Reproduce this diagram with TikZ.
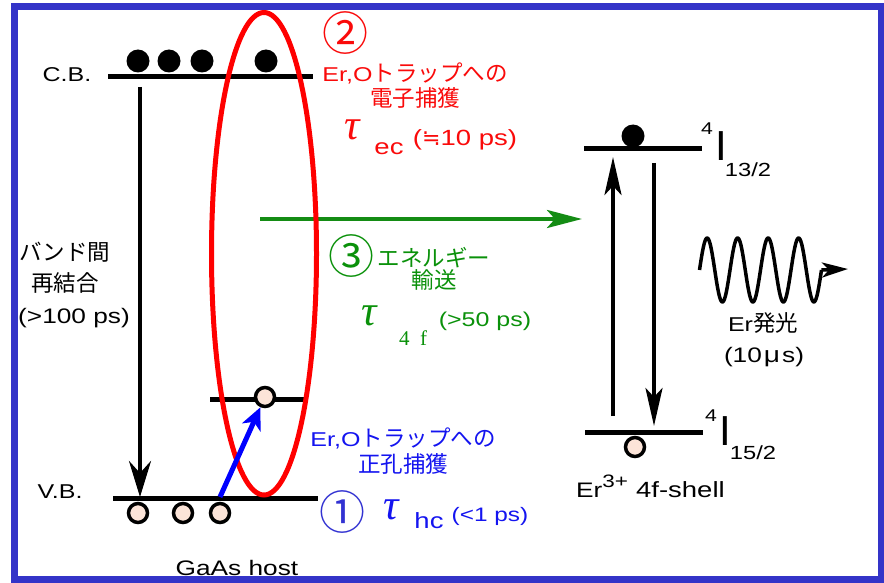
\documentclass[tikz,border=0pt]{standalone}
\usepackage{fontspec}
\setmainfont{Noto Sans CJK JP}
\newfontfamily\lat{Liberation Sans}[FakeStretch=1.25]
\newfontfamily\latplain{Liberation Sans}
\newfontfamily\djv{DejaVu Sans}
\newfontfamily\serifface{Liberation Serif}
\usetikzlibrary{arrows.meta}
\definecolor{frameblue}{RGB}{52,52,200}
\definecolor{myred}{RGB}{250,10,10}
\definecolor{mygreen}{RGB}{10,145,10}
\definecolor{arrowgreen}{RGB}{20,140,20}
\definecolor{myblue}{RGB}{20,20,240}
\definecolor{circblue}{RGB}{50,50,210}
\definecolor{holefill}{RGB}{252,228,216}
\newcommand{\fsz}[1]{\fontsize{#1pt}{#1pt}\selectfont}
\tikzset{
  lvl/.style={line width=5pt},
  elec/.style={circle, fill=black, minimum size=23pt, inner sep=0pt},
  hole/.style={circle, fill=holefill, draw=black, line width=3.5pt, minimum size=19pt, inner sep=0pt},
  lbl/.style={font=\fsz{22.5}, inner sep=0pt},
  latlbl/.style={font=\fsz{20}\lat, inner sep=0pt},
  circnum/.style={font=\fsz{46}, inner sep=0pt},
  taulbl/.style={font=\fsz{43}\serifface\itshape, inner sep=0pt},
  sublbl/.style={font=\fsz{22}\lat, inner sep=0pt},
  termI/.style={font=\fsz{42}\latplain, inner sep=0pt},
  blackarrow/.style={line width=4pt, -{Stealth[length=36pt,width=22pt,inset=12pt]}},
  thinarrow/.style={line width=4pt, -{Stealth[length=38pt,width=17pt,inset=9pt]}},
}
\begin{document}
\begin{tikzpicture}[x=1pt,y=-1pt]
\useasboundingbox (0,0) rectangle (884,583);
\fill[white] (0,0) rectangle (884,583);
% frame
\draw[frameblue, line width=6.5pt] (14.5,6.5) rectangle (881,579.5);

% host bands
\coordinate (cbL) at (108,77); \coordinate (cbR) at (313,77);
\coordinate (vbL) at (113,498); \coordinate (vbR) at (318,498);
\coordinate (trL) at (210,399); \coordinate (trR) at (307,399);
\draw[lvl] (cbL) -- (cbR);
\draw[lvl] (vbL) -- (vbR);
\draw[lvl] (trL) -- (trR);

% green energy-transfer arrow
\coordinate (gS) at (260,219); \coordinate (gE) at (582,219);
\draw[arrowgreen, line width=4pt, -{Stealth[length=35pt,width=18pt,inset=8pt]}] (gS) -- (gE);

% red ellipse
\draw[red, line width=5pt] (264,253.75) ellipse [x radius=52.5, y radius=241.25];

% electrons in CB
\node[elec] (e1) at (138,61) {};
\node[elec] (e2) at (169,61) {};
\node[elec] (e3) at (202,61) {};
\node[elec] (e4) at (266,61) {};

% holes
\node[hole] (h1) at (138,513) {};
\node[hole] (h2) at (183,513) {};
\node[hole] (h3) at (220,513) {};
\node[hole] (ht) at (265,397) {};

% recombination arrow
\coordinate (recS) at (140,87); \coordinate (recE) at (140,497);
\draw[blackarrow] (recS) -- (recE);

% hole capture arrow
\coordinate (hcS) at (220,497);
\draw[blue, line width=5pt, -{Stealth[length=22pt,width=20pt,inset=6pt]}] (hcS) -- (ht);

% Er levels
\coordinate (u1) at (584,149); \coordinate (u2) at (702,149);
\coordinate (l1) at (585,432); \coordinate (l2) at (703,432);
\draw[lvl] (u1) -- (u2);
\draw[lvl] (l1) -- (l2);
\node[elec] (ee) at (633,136) {};
\node[hole] (eh) at (635,447) {};
\coordinate (upS) at (613,416); \coordinate (upE) at (613,157);
\coordinate (dnS) at (654,163); \coordinate (dnE) at (654,426);
\draw[thinarrow] (upS) -- (upE);
\draw[thinarrow] (dnS) -- (dnE);

% emission wave
\coordinate (wE) at (821.5,270); \coordinate (wT) at (848,269);
\draw[line width=3.5pt, line join=round] plot[domain=0:122, samples=200, smooth] ({699.5+\x}, {270-32*sin(\x*11.8033)});
\draw[line width=3.5pt, -{Stealth[length=26pt,width=15pt,inset=7pt]}] (wE) -- (wT);

% labels black
\node[latlbl] (cbT) at (67,75) {C.B.};
\node[latlbl] (vbT) at (60,492) {V.B.};
\node[lbl, anchor=west] (rc1) at (19,252) {バンド間};
\node[lbl] (rc2) at (65,283) {再結合};
\node[font=\fsz{21}\lat, inner sep=0pt, anchor=west] (rc3) at (18,318) {(>100 ps)};
\node[font=\fsz{21}\lat, inner sep=0pt] (gaas) at (237,568) {GaAs host};

% red labels
\node[circnum, myred] (n2) at (345,33) {②};
\node[lbl, myred] (ra) at (415,73) {{\fsz{20}\lat Er,O}トラップへの};
\node[lbl, myred] (rb) at (415,98) {電子捕獲};
\node[taulbl, myred] (t1) at (352,130) {τ};
\node[sublbl, myred] (ec) at (389,149) {ec};
\node[font=\fsz{22}\lat, inner sep=0pt, myred] (ecv) at (465,140) {({\djv ≒}10 ps)};

% green labels
\node[circnum, mygreen] (n3) at (351,256) {③};
\node[lbl, mygreen] (ga) at (434,258) {エネルギー};
\node[lbl, mygreen] (gb) at (434,280) {輸送};
\node[taulbl, mygreen] (t2) at (369,316) {τ};
\node[font=\fsz{21}\serifface, inner sep=0pt, mygreen] (ff) at (413,338) {4\ \ f};
\node[font=\fsz{20}\lat, inner sep=0pt, mygreen] (fv) at (485,321) {(>50 ps)};

% blue labels
\node[lbl, myblue] (ba) at (403,438) {{\fsz{20}\lat Er,O}トラップへの};
\node[lbl, myblue] (bb) at (403,464) {正孔捕獲};
\node[circnum, circblue] (n1) at (342,512) {①};
\node[taulbl, myblue] (t3) at (391,510) {τ};
\node[sublbl, myblue] (hc) at (429,521) {hc};
\node[font=\fsz{19.5}\lat, inner sep=0pt, myblue] (hv) at (490,516) {(<1 ps)};

% Er term labels
\node[font=\fsz{17}\lat, inner sep=0pt] (s1) at (707,129) {4};
\node[termI] (I1) at (721,146) {I};
\node[font=\fsz{19}\lat, inner sep=0pt] (j1) at (748,170) {13/2};
\node[font=\fsz{17}\lat, inner sep=0pt] (s2) at (711,416) {4};
\node[termI] (I2) at (725,431) {I};
\node[font=\fsz{19}\lat, inner sep=0pt] (j2) at (753,453) {15/2};
\node[font=\fsz{21}\lat, inner sep=0pt, anchor=base west] (shell) at (576,497) {Er\raisebox{10pt}{\fsz{18}3+}\hspace{8pt}\fsz{22}4f-shell};
\node[lbl] (emit) at (763,323) {{\fsz{20}\lat Er}発光};
\node[font=\fsz{21}\lat, inner sep=0pt] (emt) at (764,357) {(10\hspace{2pt}{\fsz{22.5}μ}\hspace{2pt}s)};
\end{tikzpicture}
\end{document}
